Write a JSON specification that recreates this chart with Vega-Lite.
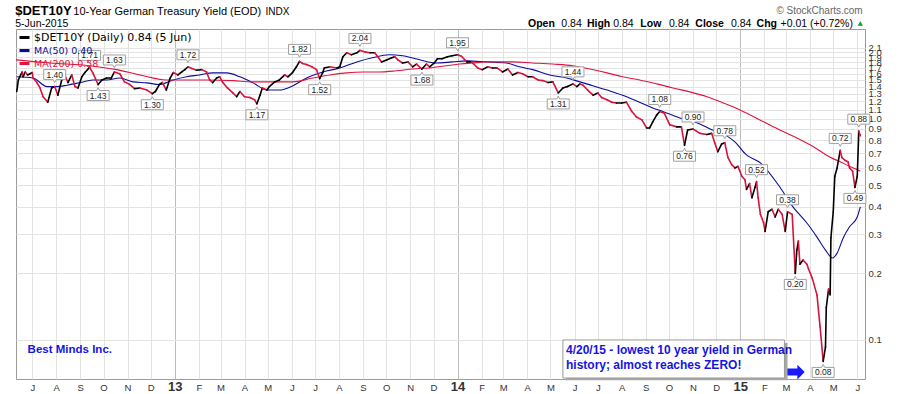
{
"$schema": "https://vega.github.io/schema/vega-lite/v6.json",
"width": 849, "height": 350,
"autosize": {"type": "none"},
"padding": {"left": 16, "top": 29, "right": 35, "bottom": 15},
"background": "white",
"config": {"view": {"stroke": "#9a9a9a", "strokeWidth": 1}, "font": "Liberation Sans"},
"datasets": {
"price": [
{"date":"2012-06-11","value":1.33},{"date":"2012-06-13","value":1.50},{"date":"2012-06-18","value":1.63},{"date":"2012-06-19","value":1.55},{"date":"2012-06-22","value":1.63},{"date":"2012-06-25","value":1.58},{"date":"2012-07-01","value":1.62},{"date":"2012-07-02","value":1.53},{"date":"2012-07-07","value":1.46},{"date":"2012-07-11","value":1.38},{"date":"2012-07-15","value":1.26},{"date":"2012-07-21","value":1.19},{"date":"2012-07-26","value":1.38},{"date":"2012-07-30","value":1.40},{"date":"2012-08-03","value":1.28},{"date":"2012-08-08","value":1.50},{"date":"2012-08-12","value":1.58},{"date":"2012-08-16","value":1.46},{"date":"2012-08-21","value":1.58},{"date":"2012-08-25","value":1.40},{"date":"2012-08-29","value":1.38},{"date":"2012-09-03","value":1.55},{"date":"2012-09-07","value":1.62},{"date":"2012-09-13","value":1.71},{"date":"2012-09-17","value":1.62},{"date":"2012-09-24","value":1.43},{"date":"2012-09-29","value":1.50},{"date":"2012-10-05","value":1.53},{"date":"2012-10-11","value":1.53},{"date":"2012-10-15","value":1.63},{"date":"2012-10-22","value":1.60},{"date":"2012-10-28","value":1.47},{"date":"2012-11-04","value":1.43},{"date":"2012-11-10","value":1.37},{"date":"2012-11-17","value":1.38},{"date":"2012-11-26","value":1.35},{"date":"2012-12-03","value":1.30},{"date":"2012-12-07","value":1.33},{"date":"2012-12-12","value":1.43},{"date":"2012-12-16","value":1.46},{"date":"2012-12-21","value":1.35},{"date":"2012-12-26","value":1.53},{"date":"2012-12-30","value":1.62},
{"date":"2013-01-05","value":1.58},{"date":"2013-01-10","value":1.63},{"date":"2013-01-14","value":1.67},{"date":"2013-01-18","value":1.72},{"date":"2013-01-23","value":1.69},{"date":"2013-01-29","value":1.66},{"date":"2013-02-05","value":1.67},{"date":"2013-02-11","value":1.63},{"date":"2013-02-15","value":1.50},{"date":"2013-02-19","value":1.46},{"date":"2013-02-24","value":1.53},{"date":"2013-02-28","value":1.55},{"date":"2013-03-04","value":1.46},{"date":"2013-03-10","value":1.38},{"date":"2013-03-17","value":1.31},{"date":"2013-03-22","value":1.26},{"date":"2013-03-26","value":1.33},{"date":"2013-04-01","value":1.26},{"date":"2013-04-08","value":1.25},{"date":"2013-04-14","value":1.22},{"date":"2013-04-17","value":1.17},{"date":"2013-04-21","value":1.28},{"date":"2013-04-24","value":1.38},{"date":"2013-04-30","value":1.35},{"date":"2013-05-03","value":1.40},{"date":"2013-05-10","value":1.47},{"date":"2013-05-16","value":1.50},{"date":"2013-05-23","value":1.58},{"date":"2013-05-27","value":1.55},{"date":"2013-06-02","value":1.62},{"date":"2013-06-07","value":1.72},{"date":"2013-06-11","value":1.82},{"date":"2013-06-15","value":1.78},{"date":"2013-06-20","value":1.76},{"date":"2013-06-27","value":1.72},{"date":"2013-07-03","value":1.67},{"date":"2013-07-07","value":1.52},{"date":"2013-07-11","value":1.62},{"date":"2013-07-13","value":1.70},{"date":"2013-07-20","value":1.72},{"date":"2013-07-29","value":1.70},{"date":"2013-08-02","value":1.72},{"date":"2013-08-06","value":1.91},{"date":"2013-08-11","value":1.99},{"date":"2013-08-17","value":1.95},{"date":"2013-08-24","value":1.99},{"date":"2013-08-28","value":2.04},{"date":"2013-09-03","value":2.01},{"date":"2013-09-10","value":1.99},{"date":"2013-09-16","value":1.99},{"date":"2013-09-20","value":1.91},{"date":"2013-09-25","value":1.81},{"date":"2013-10-02","value":1.85},{"date":"2013-10-08","value":1.89},{"date":"2013-10-12","value":1.91},{"date":"2013-10-16","value":1.85},{"date":"2013-10-22","value":1.79},{"date":"2013-10-29","value":1.81},{"date":"2013-11-04","value":1.72},{"date":"2013-11-09","value":1.77},{"date":"2013-11-16","value":1.68},{"date":"2013-11-22","value":1.77},{"date":"2013-11-26","value":1.72},{"date":"2013-12-02","value":1.79},{"date":"2013-12-06","value":1.87},{"date":"2013-12-12","value":1.87},{"date":"2013-12-19","value":1.91},{"date":"2013-12-25","value":1.93},
{"date":"2014-01-01","value":1.95},{"date":"2014-01-06","value":1.92},{"date":"2014-01-13","value":1.81},{"date":"2014-01-19","value":1.81},{"date":"2014-01-27","value":1.70},{"date":"2014-02-02","value":1.67},{"date":"2014-02-09","value":1.72},{"date":"2014-02-15","value":1.70},{"date":"2014-02-21","value":1.70},{"date":"2014-02-28","value":1.63},{"date":"2014-03-07","value":1.68},{"date":"2014-03-13","value":1.58},{"date":"2014-03-20","value":1.62},{"date":"2014-03-26","value":1.60},{"date":"2014-04-02","value":1.55},{"date":"2014-04-08","value":1.55},{"date":"2014-04-15","value":1.50},{"date":"2014-04-21","value":1.49},{"date":"2014-04-28","value":1.46},{"date":"2014-05-04","value":1.47},{"date":"2014-05-11","value":1.31},{"date":"2014-05-17","value":1.38},{"date":"2014-05-23","value":1.40},{"date":"2014-05-30","value":1.44},{"date":"2014-06-04","value":1.40},{"date":"2014-06-08","value":1.44},{"date":"2014-06-12","value":1.42},{"date":"2014-06-18","value":1.35},{"date":"2014-06-25","value":1.28},{"date":"2014-07-01","value":1.31},{"date":"2014-07-06","value":1.25},{"date":"2014-07-13","value":1.22},{"date":"2014-07-19","value":1.19},{"date":"2014-07-25","value":1.18},{"date":"2014-08-01","value":1.18},{"date":"2014-08-07","value":1.19},{"date":"2014-08-14","value":1.08},{"date":"2014-08-20","value":1.02},{"date":"2014-08-27","value":0.99},{"date":"2014-09-02","value":0.91},{"date":"2014-09-06","value":0.91},{"date":"2014-09-10","value":0.97},{"date":"2014-09-15","value":1.04},{"date":"2014-09-19","value":1.08},{"date":"2014-09-25","value":1.06},{"date":"2014-10-02","value":0.94},{"date":"2014-10-11","value":0.92},{"date":"2014-10-17","value":0.92},{"date":"2014-10-21","value":0.76},{"date":"2014-10-25","value":0.89},{"date":"2014-11-01","value":0.90},{"date":"2014-11-10","value":0.86},{"date":"2014-11-19","value":0.85},{"date":"2014-11-25","value":0.86},{"date":"2014-11-29","value":0.78},{"date":"2014-12-03","value":0.71},{"date":"2014-12-08","value":0.77},{"date":"2014-12-12","value":0.78},{"date":"2014-12-16","value":0.67},{"date":"2014-12-21","value":0.62},{"date":"2014-12-25","value":0.60},{"date":"2014-12-29","value":0.61},
{"date":"2015-01-03","value":0.55},{"date":"2015-01-07","value":0.53},{"date":"2015-01-09","value":0.48},{"date":"2015-01-13","value":0.51},{"date":"2015-01-16","value":0.44},{"date":"2015-01-20","value":0.49},{"date":"2015-01-22","value":0.52},{"date":"2015-01-24","value":0.44},{"date":"2015-01-27","value":0.37},{"date":"2015-01-31","value":0.34},{"date":"2015-02-02","value":0.31},{"date":"2015-02-06","value":0.38},{"date":"2015-02-11","value":0.39},{"date":"2015-02-15","value":0.36},{"date":"2015-02-19","value":0.39},{"date":"2015-02-24","value":0.37},{"date":"2015-02-28","value":0.31},{"date":"2015-03-03","value":0.38},{"date":"2015-03-09","value":0.37},{"date":"2015-03-13","value":0.20},{"date":"2015-03-15","value":0.255},{"date":"2015-03-17","value":0.28},{"date":"2015-03-19","value":0.22},{"date":"2015-03-23","value":0.23},{"date":"2015-03-28","value":0.22},{"date":"2015-03-30","value":0.21},{"date":"2015-04-04","value":0.19},{"date":"2015-04-10","value":0.16},{"date":"2015-04-14","value":0.115},{"date":"2015-04-18","value":0.08},{"date":"2015-04-21","value":0.093},{"date":"2015-04-22","value":0.14},{"date":"2015-04-25","value":0.17},{"date":"2015-04-27","value":0.16},{"date":"2015-04-28","value":0.29},{"date":"2015-05-01","value":0.38},{"date":"2015-05-03","value":0.55},{"date":"2015-05-06","value":0.60},{"date":"2015-05-10","value":0.72},{"date":"2015-05-12","value":0.67},{"date":"2015-05-16","value":0.65},{"date":"2015-05-20","value":0.64},{"date":"2015-05-22","value":0.60},{"date":"2015-05-26","value":0.58},{"date":"2015-05-29","value":0.49},{"date":"2015-06-01","value":0.55},{"date":"2015-06-03","value":0.88},{"date":"2015-06-05","value":0.84}
],
"ma": [
{"series":"MA(50) 0.40","date":"2012-06-11","value":1.55},{"series":"MA(50) 0.40","date":"2012-07-02","value":1.53},{"series":"MA(50) 0.40","date":"2012-07-20","value":1.40},{"series":"MA(50) 0.40","date":"2012-08-02","value":1.40},{"series":"MA(50) 0.40","date":"2012-08-15","value":1.42},{"series":"MA(50) 0.40","date":"2012-09-01","value":1.46},{"series":"MA(50) 0.40","date":"2012-09-17","value":1.50},{"series":"MA(50) 0.40","date":"2012-10-05","value":1.50},{"series":"MA(50) 0.40","date":"2012-10-22","value":1.53},{"series":"MA(50) 0.40","date":"2012-11-08","value":1.47},{"series":"MA(50) 0.40","date":"2012-11-26","value":1.455},{"series":"MA(50) 0.40","date":"2012-12-12","value":1.43},{"series":"MA(50) 0.40","date":"2012-12-30","value":1.50},{"series":"MA(50) 0.40","date":"2013-01-16","value":1.55},{"series":"MA(50) 0.40","date":"2013-02-02","value":1.58},{"series":"MA(50) 0.40","date":"2013-02-19","value":1.615},{"series":"MA(50) 0.40","date":"2013-03-09","value":1.615},{"series":"MA(50) 0.40","date":"2013-03-26","value":1.55},{"series":"MA(50) 0.40","date":"2013-04-12","value":1.455},{"series":"MA(50) 0.40","date":"2013-04-30","value":1.35},{"series":"MA(50) 0.40","date":"2013-05-16","value":1.35},{"series":"MA(50) 0.40","date":"2013-06-02","value":1.41},{"series":"MA(50) 0.40","date":"2013-06-20","value":1.53},{"series":"MA(50) 0.40","date":"2013-07-11","value":1.63},{"series":"MA(50) 0.40","date":"2013-08-02","value":1.70},{"series":"MA(50) 0.40","date":"2013-08-24","value":1.81},{"series":"MA(50) 0.40","date":"2013-09-13","value":1.89},{"series":"MA(50) 0.40","date":"2013-10-05","value":1.95},{"series":"MA(50) 0.40","date":"2013-10-22","value":1.93},{"series":"MA(50) 0.40","date":"2013-11-13","value":1.85},{"series":"MA(50) 0.40","date":"2013-12-05","value":1.79},{"series":"MA(50) 0.40","date":"2013-12-25","value":1.81},{"series":"MA(50) 0.40","date":"2014-01-13","value":1.83},{"series":"MA(50) 0.40","date":"2014-02-08","value":1.81},{"series":"MA(50) 0.40","date":"2014-03-05","value":1.79},{"series":"MA(50) 0.40","date":"2014-03-22","value":1.72},{"series":"MA(50) 0.40","date":"2014-04-08","value":1.67},{"series":"MA(50) 0.40","date":"2014-04-30","value":1.58},{"series":"MA(50) 0.40","date":"2014-05-22","value":1.53},{"series":"MA(50) 0.40","date":"2014-06-08","value":1.47},{"series":"MA(50) 0.40","date":"2014-06-21","value":1.425},{"series":"MA(50) 0.40","date":"2014-07-13","value":1.35},{"series":"MA(50) 0.40","date":"2014-08-02","value":1.28},{"series":"MA(50) 0.40","date":"2014-08-24","value":1.19},{"series":"MA(50) 0.40","date":"2014-09-10","value":1.12},{"series":"MA(50) 0.40","date":"2014-09-23","value":1.08},{"series":"MA(50) 0.40","date":"2014-10-15","value":1.01},{"series":"MA(50) 0.40","date":"2014-11-06","value":0.96},{"series":"MA(50) 0.40","date":"2014-11-26","value":0.89},{"series":"MA(50) 0.40","date":"2014-12-14","value":0.84},{"series":"MA(50) 0.40","date":"2014-12-25","value":0.787},{"series":"MA(50) 0.40","date":"2015-01-09","value":0.687},{"series":"MA(50) 0.40","date":"2015-01-27","value":0.632},{"series":"MA(50) 0.40","date":"2015-02-21","value":0.492},{"series":"MA(50) 0.40","date":"2015-03-10","value":0.40},{"series":"MA(50) 0.40","date":"2015-03-28","value":0.338},{"series":"MA(50) 0.40","date":"2015-04-10","value":0.292},{"series":"MA(50) 0.40","date":"2015-04-21","value":0.255},{"series":"MA(50) 0.40","date":"2015-04-30","value":0.235},{"series":"MA(50) 0.40","date":"2015-05-06","value":0.247},{"series":"MA(50) 0.40","date":"2015-05-14","value":0.29},{"series":"MA(50) 0.40","date":"2015-05-22","value":0.325},{"series":"MA(50) 0.40","date":"2015-06-01","value":0.36},{"series":"MA(50) 0.40","date":"2015-06-05","value":0.40},
{"series":"MA(200) 0.58","date":"2012-06-10","value":1.85},{"series":"MA(200) 0.58","date":"2012-07-24","value":1.79},{"series":"MA(200) 0.58","date":"2012-09-13","value":1.74},{"series":"MA(200) 0.58","date":"2012-10-18","value":1.67},{"series":"MA(200) 0.58","date":"2012-11-17","value":1.58},{"series":"MA(200) 0.58","date":"2012-12-21","value":1.50},{"series":"MA(200) 0.58","date":"2013-01-16","value":1.50},{"series":"MA(200) 0.58","date":"2013-02-11","value":1.50},{"series":"MA(200) 0.58","date":"2013-03-17","value":1.49},{"series":"MA(200) 0.58","date":"2013-04-12","value":1.47},{"series":"MA(200) 0.58","date":"2013-05-08","value":1.47},{"series":"MA(200) 0.58","date":"2013-06-02","value":1.47},{"series":"MA(200) 0.58","date":"2013-06-28","value":1.53},{"series":"MA(200) 0.58","date":"2013-07-20","value":1.58},{"series":"MA(200) 0.58","date":"2013-08-11","value":1.615},{"series":"MA(200) 0.58","date":"2013-09-01","value":1.63},{"series":"MA(200) 0.58","date":"2013-09-22","value":1.63},{"series":"MA(200) 0.58","date":"2013-10-14","value":1.65},{"series":"MA(200) 0.58","date":"2013-11-04","value":1.68},{"series":"MA(200) 0.58","date":"2013-11-26","value":1.70},{"series":"MA(200) 0.58","date":"2013-12-18","value":1.74},{"series":"MA(200) 0.58","date":"2014-01-04","value":1.77},{"series":"MA(200) 0.58","date":"2014-01-20","value":1.79},{"series":"MA(200) 0.58","date":"2014-02-08","value":1.81},{"series":"MA(200) 0.58","date":"2014-02-24","value":1.81},{"series":"MA(200) 0.58","date":"2014-03-13","value":1.81},{"series":"MA(200) 0.58","date":"2014-04-08","value":1.79},{"series":"MA(200) 0.58","date":"2014-05-04","value":1.77},{"series":"MA(200) 0.58","date":"2014-05-30","value":1.74},{"series":"MA(200) 0.58","date":"2014-06-21","value":1.68},{"series":"MA(200) 0.58","date":"2014-07-13","value":1.615},{"series":"MA(200) 0.58","date":"2014-08-02","value":1.55},{"series":"MA(200) 0.58","date":"2014-08-24","value":1.50},{"series":"MA(200) 0.58","date":"2014-09-15","value":1.44},{"series":"MA(200) 0.58","date":"2014-10-06","value":1.38},{"series":"MA(200) 0.58","date":"2014-10-28","value":1.325},{"series":"MA(200) 0.58","date":"2014-11-19","value":1.26},{"series":"MA(200) 0.58","date":"2014-12-10","value":1.18},{"series":"MA(200) 0.58","date":"2014-12-31","value":1.10},{"series":"MA(200) 0.58","date":"2015-01-31","value":0.97},{"series":"MA(200) 0.58","date":"2015-02-21","value":0.89},{"series":"MA(200) 0.58","date":"2015-03-15","value":0.82},{"series":"MA(200) 0.58","date":"2015-04-05","value":0.75},{"series":"MA(200) 0.58","date":"2015-04-27","value":0.67},{"series":"MA(200) 0.58","date":"2015-05-10","value":0.64},{"series":"MA(200) 0.58","date":"2015-05-22","value":0.61},{"series":"MA(200) 0.58","date":"2015-06-05","value":0.58}
],
"labels": [
{"date":"2012-07-30","value":1.40,"label":"1.40","kind":"high"},{"date":"2012-09-13","value":1.71,"label":"1.71","kind":"high"},{"date":"2012-09-24","value":1.43,"label":"1.43","kind":"low"},{"date":"2012-10-15","value":1.63,"label":"1.63","kind":"high"},{"date":"2012-12-03","value":1.30,"label":"1.30","kind":"low"},{"date":"2013-01-18","value":1.72,"label":"1.72","kind":"high"},{"date":"2013-04-17","value":1.17,"label":"1.17","kind":"low"},{"date":"2013-06-11","value":1.82,"label":"1.82","kind":"high"},{"date":"2013-07-07","value":1.52,"label":"1.52","kind":"low"},{"date":"2013-08-28","value":2.04,"label":"2.04","kind":"high"},{"date":"2013-11-16","value":1.68,"label":"1.68","kind":"low"},{"date":"2014-01-01","value":1.95,"label":"1.95","kind":"high"},{"date":"2014-05-11","value":1.31,"label":"1.31","kind":"low"},{"date":"2014-05-30","value":1.44,"label":"1.44","kind":"high"},{"date":"2014-09-19","value":1.08,"label":"1.08","kind":"high"},{"date":"2014-10-21","value":0.76,"label":"0.76","kind":"low"},{"date":"2014-11-01","value":0.90,"label":"0.90","kind":"high"},{"date":"2014-12-12","value":0.78,"label":"0.78","kind":"high"},{"date":"2015-01-22","value":0.52,"label":"0.52","kind":"high"},{"date":"2015-03-03","value":0.38,"label":"0.38","kind":"high"},{"date":"2015-03-13","value":0.20,"label":"0.20","kind":"low"},{"date":"2015-04-18","value":0.08,"label":"0.08","kind":"low"},{"date":"2015-05-10","value":0.72,"label":"0.72","kind":"high"},{"date":"2015-05-29","value":0.49,"label":"0.49","kind":"low"},{"date":"2015-06-03","value":0.88,"label":"0.88","kind":"high"}
],
"annBox": [{"date":"2014-05-17","date2":"2015-02-27","value":0.1,"value2":0.0673}],
"annShadow": [{"date":"2014-05-21","date2":"2015-03-03","value":0.097,"value2":0.0658}],
"annText": [{"date":"2014-05-21","value":0.0901,"t":"4/20/15 - lowest 10 year yield in German"},{"date":"2014-05-21","value":0.077,"t":"history; almost reaches ZERO!"}],
"credit": [{"date":"2012-06-25","value":0.0901,"t":"Best Minds Inc."}],
"arrow": [{"date":"2015-03-14","value":0.0716}],
"hdrTitle": [{"date":"2012-06-09","value":2.955,"t":"$DET10Y"}],
"hdrName": [{"date":"2012-08-23","value":2.955,"t":"10-Year German Treasury Yield (EOD)"}],
"hdrIndx": [{"date":"2013-04-28","value":2.955,"t":"INDX"}],
"hdrDate": [{"date":"2012-06-09","value":2.608,"t":"5-Jun-2015"}],
"hdrSource": [{"date":"2015-06-08","value":2.987,"t":"© StockCharts.com"}],
"ohlcNames": [{"date":"2014-04-02","value":2.608,"t":"Open"},{"date":"2014-06-17","value":2.608,"t":"High"},{"date":"2014-08-25","value":2.608,"t":"Low"},{"date":"2014-11-04","value":2.608,"t":"Close"},{"date":"2015-01-22","value":2.608,"t":"Chg"}],
"ohlcValues": [{"date":"2014-05-15","value":2.608,"t":"0.84"},{"date":"2014-07-21","value":2.608,"t":"0.84"},{"date":"2014-10-01","value":2.608,"t":"0.84"},{"date":"2014-12-20","value":2.608,"t":"0.84"},{"date":"2015-02-22","value":2.608,"t":"+0.01 (+0.72%)"}],
"upMark": [{"date":"2015-06-05","value":2.705}]
},
"encoding": {
  "x": {"field": "date", "type": "temporal",
    "scale": {"type": "utc", "domain": [{"year": 2012, "month": 6, "date": 10, "utc": true}, {"year": 2015, "month": 6, "date": 11, "utc": true}]},
    "axis": {"title": null, "orient": "bottom", "tickCount": {"interval": "month", "step": 1},
      "labelExpr": "utcmonth(datum.value) == 0 ? utcFormat(datum.value, '%y') : slice(utcFormat(datum.value, '%b'), 0, 1)",
      "labelFontWeight": {"condition": {"test": "utcmonth(datum.value) == 0", "value": "bold"}, "value": "normal"},
      "labelFontSize": {"condition": {"test": "utcmonth(datum.value) == 0", "value": 13}, "value": 9.5},
      "gridColor": {"condition": {"test": "utcmonth(datum.value) == 0", "value": "#bdbdbd"}, "value": "#e3e3e3"},
      "grid": true, "ticks": false, "tickSize": 0, "domain": false, "labelFont": "Liberation Sans", "labelColor": "#333333",
      "labelBaseline": "alphabetic", "labelPadding": 11, "labelOverlap": false, "labelFlush": false}},
  "y": {"field": "value", "type": "quantitative",
    "scale": {"type": "log", "domain": [0.0666, 2.55], "nice": false, "zero": false},
    "axis": {"title": null, "orient": "right", "values": [0.1,0.2,0.3,0.4,0.5,0.6,0.7,0.8,0.9,1,1.1,1.2,1.3,1.4,1.5,1.6,1.7,1.8,1.9,2,2.1],
      "labelExpr": "format(datum.value, '.1f')", "grid": true, "gridColor": "#e3e3e3", "ticks": false, "tickSize": 0, "domain": false,
      "labelFont": "Liberation Sans", "labelFontSize": 9.5, "labelColor": "#333333", "labelPadding": 3, "labelOverlap": false, "labelFlush": false}}
},
"layer": [
  {"data": {"name": "annShadow"}, "mark": {"type": "rect", "fill": "#a8a8a8"}, "encoding": {"x2": {"field": "date2"}, "y2": {"field": "value2"}}},
  {"data": {"name": "annBox"}, "mark": {"type": "rect", "fill": "white", "stroke": "#9a9a9a", "strokeWidth": 1}, "encoding": {"x2": {"field": "date2"}, "y2": {"field": "value2"}}},
  {"data": {"name": "ma"}, "mark": {"type": "line", "strokeWidth": 1.1, "interpolate": "monotone"},
   "encoding": {"color": {"field": "series", "type": "nominal",
     "scale": {"domain": ["$DET10Y (Daily) 0.84 (5 Jun)", "MA(50) 0.40", "MA(200) 0.58"], "range": ["#000000", "#0c0c9c", "#e3123e"]},
     "legend": {"title": null, "orient": "top-left", "offset": 0, "padding": 2, "symbolType": "stroke", "symbolStrokeWidth": 3, "symbolSize": 100,
       "labelFont": "DejaVu Sans", "labelFontSize": 11, "labelLimit": 300, "rowPadding": 0, "labelOffset": 3,
       "encode": {"labels": {"update": {"fill": {"scale": "color", "field": "value"}, "fontSize": {"signal": "datum.value == 'MA(50) 0.40' || datum.value == 'MA(200) 0.58' ? 9.5 : 11"}}}}}}}},
  {"data": {"name": "price", "format": {"parse": {"date": "date"}}},
   "transform": [{"window": [{"op": "lag", "field": "value", "as": "prev"}, {"op": "lag", "field": "date", "as": "prevDate"}], "sort": [{"field": "date", "order": "ascending"}]}, {"filter": "datum.prev != null"}],
   "mark": {"type": "rule", "strokeWidth": 1.6, "strokeCap": "round"},
   "encoding": {"x2": {"field": "prevDate"}, "y2": {"field": "prev"}, "color": {"condition": {"test": "datum.value < datum.prev", "value": "#d8143e"}, "value": "#000000"}}},
  {"data": {"name": "labels"}, "transform": [{"filter": "datum.kind == 'high'"}],
   "mark": {"type": "point", "shape": "M-1,-0.4545H1V0.4545H0.14L0,0.72L-0.14,0.4545H-1Z", "size": 484, "filled": true, "fill": "white", "stroke": "#a0a0a0", "strokeWidth": 1, "opacity": 1, "yOffset": -12}},
  {"data": {"name": "labels"}, "transform": [{"filter": "datum.kind == 'high'"}],
   "mark": {"type": "text", "font": "Liberation Sans", "fontSize": 8.5, "color": "#222222", "yOffset": -12, "baseline": "middle", "align": "center"},
   "encoding": {"text": {"field": "label"}}},
  {"data": {"name": "labels"}, "transform": [{"filter": "datum.kind == 'low'"}],
   "mark": {"type": "point", "shape": "M-1,-0.4545H-0.14L0,-0.72L0.14,-0.4545H1V0.4545H-1Z", "size": 484, "filled": true, "fill": "white", "stroke": "#a0a0a0", "strokeWidth": 1, "opacity": 1, "yOffset": 11}},
  {"data": {"name": "labels"}, "transform": [{"filter": "datum.kind == 'low'"}],
   "mark": {"type": "text", "font": "Liberation Sans", "fontSize": 8.5, "color": "#222222", "yOffset": 11, "baseline": "middle", "align": "center"},
   "encoding": {"text": {"field": "label"}}},
  {"data": {"name": "annText"}, "mark": {"type": "text", "font": "Liberation Sans", "fontSize": 12, "fontWeight": "bold", "color": "#1515e0", "align": "left", "baseline": "middle"}, "encoding": {"text": {"field": "t"}}},
  {"data": {"name": "credit"}, "mark": {"type": "text", "font": "Liberation Sans", "fontSize": 11.5, "fontWeight": "bold", "color": "#1515e0", "align": "left", "baseline": "middle"}, "encoding": {"text": {"field": "t"}}},
  {"data": {"name": "arrow"}, "mark": {"type": "point", "shape": "M-1,-0.4H0.15V-0.85L1,0L0.15,0.85V0.4H-1Z", "size": 300, "filled": true, "fill": "#1a1aff", "strokeWidth": 0, "opacity": 1}},
  {"data": {"name": "hdrTitle"}, "mark": {"type": "text", "font": "Liberation Sans", "fontSize": 13, "fontWeight": "bold", "color": "#000000", "align": "left", "baseline": "alphabetic"}, "encoding": {"text": {"field": "t"}}},
  {"data": {"name": "hdrName"}, "mark": {"type": "text", "font": "Liberation Sans", "fontSize": 11, "color": "#000000", "align": "left", "baseline": "alphabetic"}, "encoding": {"text": {"field": "t"}}},
  {"data": {"name": "hdrIndx"}, "mark": {"type": "text", "font": "Liberation Sans", "fontSize": 10, "color": "#000000", "align": "left", "baseline": "alphabetic"}, "encoding": {"text": {"field": "t"}}},
  {"data": {"name": "hdrDate"}, "mark": {"type": "text", "font": "Liberation Sans", "fontSize": 10.5, "color": "#000000", "align": "left", "baseline": "alphabetic"}, "encoding": {"text": {"field": "t"}}},
  {"data": {"name": "hdrSource"}, "mark": {"type": "text", "font": "Liberation Sans", "fontSize": 10, "color": "#666666", "align": "right", "baseline": "alphabetic"}, "encoding": {"text": {"field": "t"}}},
  {"data": {"name": "ohlcNames"}, "mark": {"type": "text", "font": "Liberation Sans", "fontSize": 10.5, "fontWeight": "bold", "color": "#000000", "align": "left", "baseline": "alphabetic"}, "encoding": {"text": {"field": "t"}}},
  {"data": {"name": "ohlcValues"}, "mark": {"type": "text", "font": "Liberation Sans", "fontSize": 10.5, "color": "#000000", "align": "left", "baseline": "alphabetic"}, "encoding": {"text": {"field": "t"}}},
  {"data": {"name": "upMark"}, "mark": {"type": "point", "shape": "triangle-up", "size": 28, "filled": true, "fill": "#1f9a2a", "strokeWidth": 0, "opacity": 1}}
]
}
